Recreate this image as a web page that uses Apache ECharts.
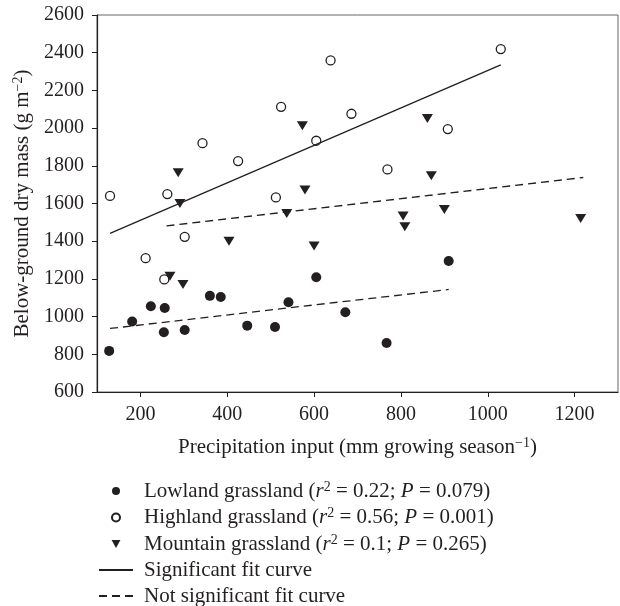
<!DOCTYPE html>
<html>
<head>
<meta charset="utf-8">
<script src="https://cdn.jsdelivr.net/npm/echarts@6/dist/echarts.min.js"></script>
<style>
  html, body { margin: 0; padding: 0; background: #fff; }
  #chart { width: 620px; height: 606px; }
</style>
</head>
<body>
<div id="chart"></div>
<script>
// data
var lowlandX = [128, 181, 224, 256, 254, 302, 360, 385, 446, 510, 541, 605, 672, 767, 910];
var lowlandY = [818, 974, 1055, 1046, 917, 929, 1110, 1104, 952, 945, 1076, 1209, 1023, 860, 1295];

var highlandX = [130, 212, 255, 262, 302, 343, 425, 512, 524, 605, 638, 686, 769, 908, 1030];
var highlandY = [1640, 1310, 1197, 1650, 1423, 1920, 1825, 1632, 2113, 1933, 2359, 2076, 1781, 1995, 2419];

var mountainX = [268, 287, 291, 298, 404, 537, 573, 579, 600, 805, 809, 861, 870, 900, 1214];
var mountainY = [1214, 1763, 1600, 1170, 1400, 1547, 2012, 1671, 1375, 1534, 1476, 2051, 1747, 1568, 1520];

// fitted lines (end points)
var highlandFitX = [130, 1030];
var highlandFitY = [1441, 2335];
var lowlandFitX = [130, 910];
var lowlandFitY = [937, 1144];
var mountainFitX = [260, 1220];
var mountainFitY = [1481, 1738];

var xTicks = [200, 400, 600, 800, 1000, 1200];

var seriesNames = ["Lowland grassland", "Highland grassland", "Mountain grassland",
  "Significant fit curve", "Not significant fit curve"];
var legendStats = {
  "Lowland grassland": ["0.22", "0.079"],
  "Highland grassland": ["0.56", "0.001"],
  "Mountain grassland": ["0.1", "0.265"]
};

function pairs(xs, ys) {
  return xs.map(function (x, i) { return [x, ys[i]]; });
}

var ink = "#231f20";
var font = "'Liberation Serif', 'DejaVu Serif', serif";
var triDown = "path://M0,0 L10,0 L5,9 Z";

var rich = {
  t: { fontSize: 21, fontFamily: font, color: ink, lineHeight: 22 },
  i: { fontSize: 21, fontFamily: font, color: ink, fontStyle: "italic", lineHeight: 22 },
  sup: { fontSize: 14, fontFamily: font, color: ink, verticalAlign: "top", lineHeight: 13 }
};

var chart = echarts.init(document.getElementById("chart"));
chart.setOption({
  animation: false,
  textStyle: { fontFamily: font, color: ink },
  grid: {
    left: 97, right: 2, top: 15, bottom: 214,
    show: true, borderColor: "#666", borderWidth: 1
  },
  xAxis: {
    type: "value",
    min: 100, max: 1300,
    name: "{t|Precipitation input (mm growing season}{sup|−1}{t|)}",
    nameLocation: "middle",
    nameGap: 44,
    nameTextStyle: { rich: rich },
    axisLine: { lineStyle: { color: ink, width: 1.2 } },
    axisTick: { customValues: xTicks, length: 5, lineStyle: { color: ink } },
    axisLabel: {
      customValues: xTicks, fontSize: 20, color: ink, margin: 13, fontFamily: font,
      formatter: function (v) { return String(v); }
    },
    splitLine: { show: false }
  },
  yAxis: {
    type: "value",
    min: 600, max: 2600, interval: 200,
    name: "{t|Below-ground dry mass (g m}{sup|−2}{t|)}",
    nameLocation: "middle",
    nameGap: 51,
    nameTextStyle: { rich: rich },
    axisLine: { show: true, lineStyle: { color: ink, width: 1.2 } },
    axisTick: { show: true, length: 5, lineStyle: { color: ink } },
    axisLabel: {
      fontSize: 20, color: ink, margin: 13, fontFamily: font,
      formatter: function (v) { return String(v); }
    },
    splitLine: { show: false }
  },
  legend: {
    orient: "vertical",
    left: 98, top: 480,
    padding: 0,
    itemGap: 5,
    itemWidth: 34,
    itemHeight: 8,
    data: seriesNames,
    formatter: function (name) {
      var s = legendStats[name];
      if (!s) return "{t|" + name + "}";
      return "{t|" + name + " (}{i|r}{sup|2}{t| = " + s[0] + "; }{i|P}{t| = " + s[1] + ")}";
    },
    textStyle: { padding: [0, 0, 0, 6], rich: rich }
  },
  series: [
    {
      name: "Significant fit curve", type: "line", symbol: "none",
      data: pairs(highlandFitX, highlandFitY),
      itemStyle: { color: ink, opacity: 0 },
      lineStyle: { color: ink, width: 1.3, opacity: 1 }
    },
    {
      name: "Not significant fit curve", type: "line", symbol: "none",
      data: pairs(mountainFitX, mountainFitY),
      itemStyle: { color: ink, opacity: 0 },
      lineStyle: { color: ink, width: 1.3, type: [8, 5], opacity: 1 }
    },
    {
      name: "Not significant fit curve", type: "line", symbol: "none",
      data: pairs(lowlandFitX, lowlandFitY),
      itemStyle: { color: ink, opacity: 0 },
      lineStyle: { color: ink, width: 1.3, type: [8, 5], opacity: 1 }
    },
    {
      name: "Lowland grassland", type: "scatter", symbol: "circle", symbolSize: 10,
      data: pairs(lowlandX, lowlandY),
      itemStyle: { color: ink, opacity: 1 }
    },
    {
      name: "Highland grassland", type: "scatter", symbol: "circle", symbolSize: 9,
      data: pairs(highlandX, highlandY),
      itemStyle: { color: "#fff", borderColor: ink, borderWidth: 1.3, opacity: 1 }
    },
    {
      name: "Mountain grassland", type: "scatter", symbol: triDown, symbolSize: [11, 9],
      data: pairs(mountainX, mountainY),
      itemStyle: { color: ink, opacity: 1 }
    }
  ]
});
</script>
</body>
</html>
